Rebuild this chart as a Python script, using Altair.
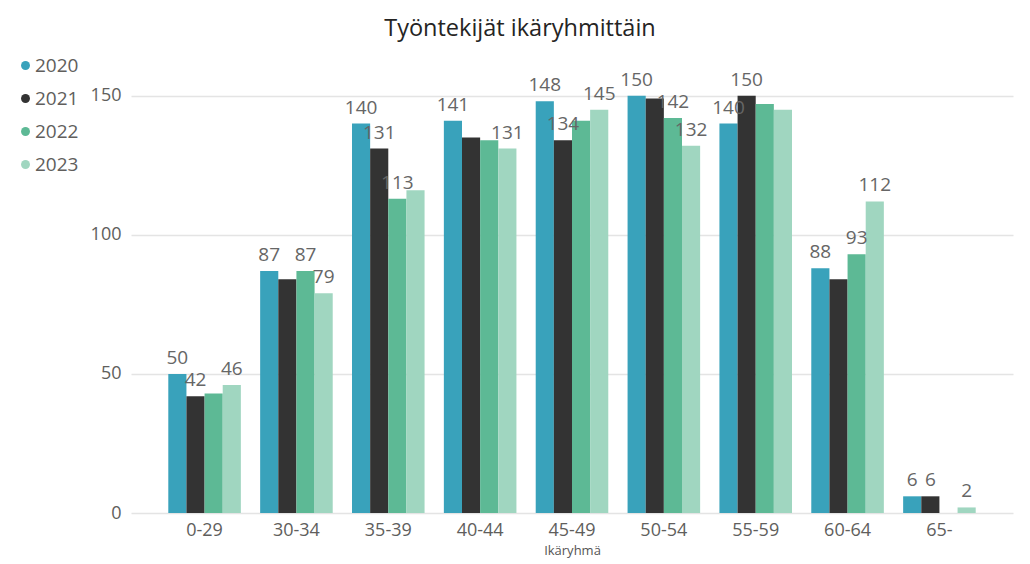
import altair as alt
import pandas as pd

groups = ["0-29", "30-34", "35-39", "40-44", "45-49", "50-54", "55-59", "60-64", "65-"]
years = ["2020", "2021", "2022", "2023"]
colors = ["#39A2BB", "#333333", "#5DB995", "#A0D6C0"]

v2020 = [50, 87, 140, 141, 148, 150, 140, 88, 6]
v2021 = [42, 84, 131, 135, 134, 149, 150, 84, 6]
v2022 = [43, 87, 113, 134, 141, 142, 147, 93, None]
v2023 = [46, 79, 116, 131, 145, 132, 145, 112, 2]

# data labels that are visible in the original (overlapping ones hidden)
show2020 = [1, 1, 1, 1, 1, 1, 1, 1, 1]
show2021 = [1, 0, 1, 0, 1, 0, 1, 0, 1]
show2022 = [0, 1, 1, 0, 0, 1, 0, 1, 0]
show2023 = [1, 1, 0, 1, 1, 1, 0, 1, 1]

rows = []
for yr, vals, shows in zip(years, [v2020, v2021, v2022, v2023],
                           [show2020, show2021, show2022, show2023]):
    for g, v, s in zip(groups, vals, shows):
        if v is None:
            continue
        rows.append({"group": g, "year": yr, "value": v, "show": s})
df = pd.DataFrame(rows)

FONT = "Open Sans"

base = alt.Chart(df).encode(
    x=alt.X("group:N", sort=groups,
            scale=alt.Scale(domain=groups, paddingInner=0.21, paddingOuter=0.406),
            axis=alt.Axis(title="Ikäryhmä", labelAngle=0, labelFontSize=18,
                          labelColor="#605E5C", labelPadding=8, domain=False,
                          ticks=False, grid=False, titleFontSize=13,
                          titleColor="#555555", titleFontWeight="normal",
                          titlePadding=5, labelFont=FONT, titleFont=FONT)),
    xOffset=alt.XOffset("year:N", scale=alt.Scale(domain=years, paddingInner=0, paddingOuter=0)),
    y=alt.Y("value:Q", scale=alt.Scale(domain=[0, 165], nice=False),
            axis=alt.Axis(title=None, values=[0, 50, 100, 150], labelFontSize=18,
                          labelColor="#605E5C", labelPadding=10, domain=False,
                          ticks=False, grid=True, gridColor="#E4E4E4",
                          gridWidth=1.5, labelFont=FONT)),
)

bars = base.mark_bar().encode(
    color=alt.Color("year:N", scale=alt.Scale(domain=years, range=colors),
                    legend=alt.Legend(title=None, orient="none", legendX=-115, legendY=2,
                                      direction="vertical", symbolType="circle",
                                      symbolSize=80, symbolStrokeWidth=0,
                                      labelFontSize=19, labelColor="#605E5C",
                                      labelFont=FONT, labelOffset=0, rowPadding=13))
)

labels = base.mark_text(dy=-10, baseline="alphabetic", align="center",
                        fontSize=19, color="#666666", font=FONT).encode(
    text="value:Q"
).transform_filter("datum.show == 1")

chart = alt.layer(bars, labels).properties(
    width=882,
    height=459,
    title=alt.TitleParams("Työntekijät ikäryhmittäin", fontSize=23.5, font=FONT,
                          fontWeight="normal", color="#252423", anchor="middle",
                          dx=-52, dy=25, offset=20, baseline="alphabetic"),
    autosize=alt.AutoSizeParams(type="none"),
    padding={"left": 123, "top": 46, "right": 9, "bottom": 52},
).configure_view(stroke=None)

chart.save("out.html", embed_options={"renderer": "svg", "actions": False})
